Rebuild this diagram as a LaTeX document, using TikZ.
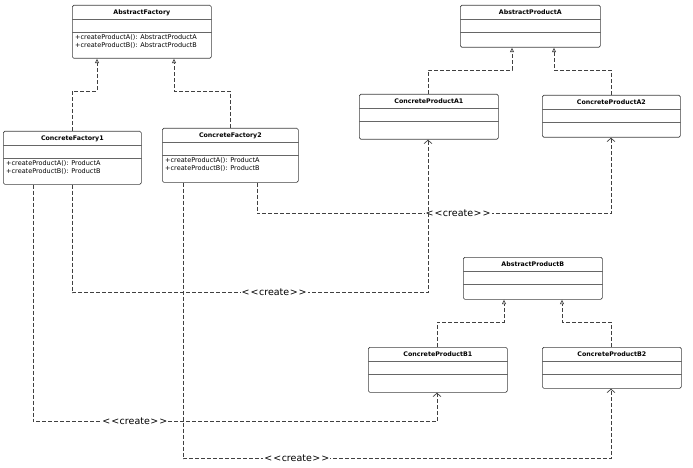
\documentclass[tikz,border=0pt]{standalone}
\usepackage{fontspec}
\setmainfont{DejaVu Sans}
\usetikzlibrary{calc,arrows.meta,positioning}

\tikzset{
  classbox/.style={draw=black!75, line width=0.7pt, rounded corners=1.5pt, fill=white, inner sep=0pt, anchor=north west},
  classsep/.style={draw=black!60, line width=0.6pt},
  classtitle/.style={font=\fontsize{6.3}{7}\selectfont\bfseries, inner sep=0pt},
  classops/.style={font=\fontsize{6.5}{7.4}\selectfont, align=left, inner sep=0pt, anchor=north west},
  realize/.style={draw=black!75, line width=0.7pt, dash pattern=on 4pt off 2pt, -{Triangle[open,length=4.5pt,width=4pt]}},
  depend/.style={draw=black!75, line width=0.7pt, dash pattern=on 4pt off 2pt, -{Straight Barb[length=3.5pt,width=8pt]}},
  createlbl/.style={font=\fontsize{9.5}{11}\selectfont, fill=white, inner sep=1pt},
}

% #1 name, #2 left, #3 top, #4 width, #5 height, #6 class name, #7 operations
\newcommand{\UMLClass}[7]{
 \node[classbox, minimum width=#4pt, minimum height=#5pt] (#1) at (#2,#3) {};
 \draw[classsep] ([yshift=-14pt]#1.north west) -- ([yshift=-14pt]#1.north east);
 \draw[classsep] ([yshift=-27.5pt]#1.north west) -- ([yshift=-27.5pt]#1.north east);
 \node[classtitle] (#1-name) at ([yshift=-7.5pt]#1.north) {#6};
 \node[classops] (#1-ops) at ([xshift=3pt,yshift=-29.5pt]#1.north west) {#7};
}
% kerns keep << and >> from turning into guillemets
\newcommand{\createtext}{\textless\kern1pt\textless\kern0.5pt create\kern0.5pt\textgreater\kern1pt\textgreater}

\begin{document}
\begin{tikzpicture}[x=1pt, y=-1pt]
	\useasboundingbox (0,0) rectangle (693,468);

	%% factories
	\UMLClass{af}{72}{5}{139}{53}{AbstractFactory}{+createProductA(): AbstractProductA\\+createProductB(): AbstractProductB}
	\UMLClass{cf1}{3}{131}{138}{53}{ConcreteFactory1}{+createProductA(): ProductA\\+createProductB(): ProductB}
	\UMLClass{cf2}{162}{128}{136}{54}{ConcreteFactory2}{+createProductA(): ProductA\\+createProductB(): ProductB}

	%% products A
	\UMLClass{apa}{460}{5}{140}{42}{AbstractProductA}{}
	\UMLClass{cpa1}{359}{94}{139}{45}{ConcreteProductA1}{}
	\UMLClass{cpa2}{542}{95}{138}{42}{ConcreteProductA2}{}

	%% products B
	\UMLClass{apb}{463}{257}{139}{42}{AbstractProductB}{}
	\UMLClass{cpb1}{368}{347}{139}{45}{ConcreteProductB1}{}
	\UMLClass{cpb2}{542}{347}{139}{41}{ConcreteProductB2}{}

	%% realizations
	\draw[realize] ([xshift=69pt]cf1.north west) -- ++(0,-40) -| ([xshift=25pt]af.south west);
	\draw[realize] ([xshift=68pt]cf2.north west) -- ++(0,-37) -| ([xshift=102pt]af.south west);
	\draw[realize] ([xshift=69pt]cpa1.north west) -- ++(0,-24) -| ([xshift=52pt]apa.south west);
	\draw[realize] ([xshift=69pt]cpa2.north west) -- ++(0,-25) -| ([xshift=94pt]apa.south west);
	\draw[realize] ([xshift=69pt]cpb1.north west) -- ++(0,-25) -| ([xshift=41pt]apb.south west);
	\draw[realize] ([xshift=69pt]cpb2.north west) -- ++(0,-25) -| ([xshift=99pt]apb.south west);

	%% create dependencies
	\draw[depend] ([xshift=95pt]cf2.south west) -- ++(0,31)
		-| node[createlbl, pos=0.284] (create-a2) {\createtext} ([xshift=69pt]cpa2.south west);
	\draw[depend] ([xshift=69pt]cf1.south west) -- ++(0,108)
		-| node[createlbl, pos=0.284] (create-a1) {\createtext} ([xshift=69pt]cpa1.south west);
	\draw[depend] ([xshift=30pt]cf1.south west) -- ++(0,237)
		-| node[createlbl, pos=0.126] (create-b1) {\createtext} ([xshift=69pt]cpb1.south west);
	\draw[depend] ([xshift=21pt]cf2.south west) -- ++(0,276)
		-| node[createlbl, pos=0.133] (create-b2) {\createtext} ([xshift=69pt]cpb2.south west);
\end{tikzpicture}
\end{document}
